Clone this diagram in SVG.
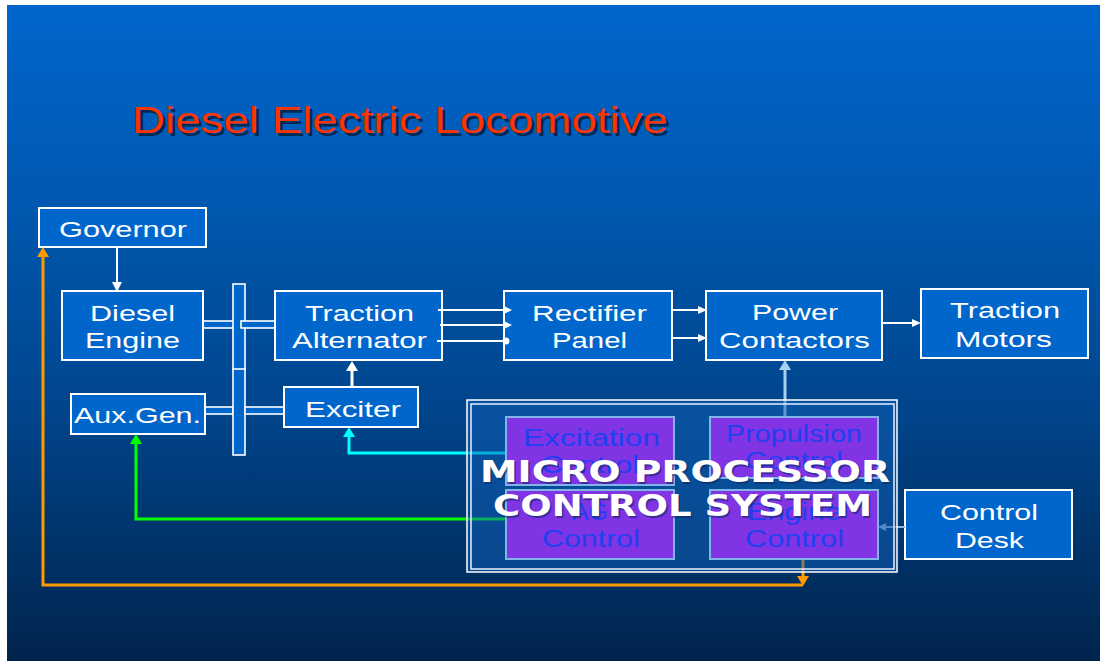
<svg xmlns="http://www.w3.org/2000/svg" width="1106" height="662" viewBox="0 0 1106 662">
<defs>
<linearGradient id="bg" x1="0" y1="0" x2="0" y2="1">
<stop offset="0" stop-color="#0066CC"/>
<stop offset="0.3" stop-color="#0058B0"/>
<stop offset="0.6" stop-color="#00468E"/>
<stop offset="1" stop-color="#00244C"/>
</linearGradient>
<style>
.box{fill:#0066CC;stroke:#FFFFFF;stroke-width:2}
.shaft{fill:#0066CC;stroke:#FFFFFF;stroke-width:1.6}
.lbl{font-family:"Liberation Sans",Arial,sans-serif;font-size:22px;fill:#FFFFFF;text-anchor:middle}
.plbl{font-family:"Liberation Sans",Arial,sans-serif;font-size:23px;fill:#2040F0;text-anchor:middle}
.pbox{fill:#8034E4;stroke:#80B4E8;stroke-width:2}
.w{stroke:#FFFFFF;fill:none}
.mp{font-family:"DejaVu Sans",Verdana,sans-serif;font-weight:bold;font-size:30px;fill:#FFFFFF}
</style>
</defs>
<rect x="0" y="0" width="1106" height="662" fill="#FFFFFF"/>
<rect x="7" y="5" width="1093" height="656" fill="url(#bg)"/>

<g id="title">
<text x="135" y="136" font-family="'Liberation Sans',Arial,sans-serif" font-size="37" fill="#001830" fill-opacity="0.75" textLength="536" lengthAdjust="spacingAndGlyphs">Diesel Electric Locomotive</text>
<text x="132" y="133" font-family="'Liberation Sans',Arial,sans-serif" font-size="37" fill="#FF3300" textLength="536" lengthAdjust="spacingAndGlyphs">Diesel Electric Locomotive</text>
</g>

<g id="shafts">
<rect class="shaft" x="203" y="321" width="31" height="7"/>
<rect class="shaft" x="205" y="407" width="28" height="7"/>
<rect class="shaft" x="233" y="284" width="12" height="86"/>
<rect class="shaft" x="233" y="369" width="12" height="86"/>
<rect class="shaft" x="241" y="321" width="34" height="7"/>
<rect class="shaft" x="245" y="407" width="39" height="7"/>
</g>

<g id="governor">
<rect class="box" x="39" y="208" width="167" height="39"/>
<text class="lbl" x="123" y="237" textLength="128" lengthAdjust="spacingAndGlyphs">Governor</text>
</g>
<g id="diesel-engine">
<rect class="box" x="62" y="291" width="141" height="69"/>
<text class="lbl" x="132.5" y="321" textLength="85" lengthAdjust="spacingAndGlyphs">Diesel</text>
<text class="lbl" x="132.5" y="348" textLength="95" lengthAdjust="spacingAndGlyphs">Engine</text>
</g>
<g id="traction-alternator">
<rect class="box" x="275" y="291" width="167" height="69"/>
<text class="lbl" x="359.5" y="321" textLength="109" lengthAdjust="spacingAndGlyphs">Traction</text>
<text class="lbl" x="359.5" y="348" textLength="135" lengthAdjust="spacingAndGlyphs">Alternator</text>
</g>
<g id="exciter">
<rect class="box" x="284" y="387" width="134" height="40"/>
<text class="lbl" x="353" y="417" textLength="96" lengthAdjust="spacingAndGlyphs">Exciter</text>
</g>
<g id="aux-gen">
<rect class="box" x="71" y="394" width="134" height="40"/>
<text class="lbl" x="137.5" y="423" textLength="127" lengthAdjust="spacingAndGlyphs">Aux.Gen.</text>
</g>
<g id="rectifier-panel">
<rect class="box" x="504" y="291" width="168" height="69"/>
<text class="lbl" x="589.5" y="321" textLength="115" lengthAdjust="spacingAndGlyphs">Rectifier</text>
<text class="lbl" x="589.5" y="348" textLength="75" lengthAdjust="spacingAndGlyphs">Panel</text>
</g>
<g id="power-contactors">
<rect class="box" x="706" y="291" width="176" height="69"/>
<text class="lbl" x="795" y="320" textLength="86" lengthAdjust="spacingAndGlyphs">Power</text>
<text class="lbl" x="794.5" y="348" textLength="151" lengthAdjust="spacingAndGlyphs">Contactors</text>
</g>
<g id="traction-motors">
<rect class="box" x="921" y="289" width="167" height="69"/>
<text class="lbl" x="1005" y="318" textLength="110" lengthAdjust="spacingAndGlyphs">Traction</text>
<text class="lbl" x="1003.5" y="347" textLength="97" lengthAdjust="spacingAndGlyphs">Motors</text>
</g>
<g id="control-desk">
<rect class="box" x="905" y="490" width="167" height="69"/>
<text class="lbl" x="989" y="520" textLength="98" lengthAdjust="spacingAndGlyphs">Control</text>
<text class="lbl" x="989.5" y="548" textLength="69" lengthAdjust="spacingAndGlyphs">Desk</text>
</g>

<g id="connectors">
<line class="w" x1="117" y1="247" x2="117" y2="284" stroke-width="2"/>
<polygon points="112,282 122,282 117,292" fill="#FFFFFF"/>
<line class="w" x1="352" y1="387" x2="352" y2="369" stroke-width="3"/>
<polygon points="346,371 358,371 352,361" fill="#FFFFFF"/>
<line class="w" x1="438" y1="310" x2="505" y2="310" stroke-width="2"/>
<polygon points="504,306 504,314 512,310" fill="#FFFFFF"/>
<line class="w" x1="440" y1="325" x2="505" y2="325" stroke-width="2"/>
<polygon points="504,321 504,329 512,325" fill="#FFFFFF"/>
<line class="w" x1="437" y1="341" x2="506" y2="341" stroke-width="2"/>
<circle cx="506" cy="341" r="3.5" fill="#FFFFFF"/>
<line class="w" x1="672" y1="310" x2="699" y2="310" stroke-width="2"/>
<polygon points="698,306 698,314 707,310" fill="#FFFFFF"/>
<line class="w" x1="672" y1="338" x2="699" y2="338" stroke-width="2"/>
<polygon points="698,334 698,342 707,338" fill="#FFFFFF"/>
<line class="w" x1="882" y1="323" x2="913" y2="323" stroke-width="2"/>
<polygon points="912,319 912,327 921,323" fill="#FFFFFF"/>
<polyline points="506,453 349,453 349,436" fill="none" stroke="#00FFFF" stroke-width="3"/>
<polygon points="343,437 355,437 349,427" fill="#00FFFF"/>
<polyline points="506,519 136,519 136,443" fill="none" stroke="#00FF00" stroke-width="3"/>
<polygon points="130,444 142,444 136,434" fill="#00FF00"/>
<polyline points="803,585 43,585 43,256" fill="none" stroke="#FF9900" stroke-width="3"/>
<polygon points="37,257 49,257 43,247" fill="#FF9900"/>
<line x1="803" y1="559" x2="803" y2="577" stroke="#FF9900" stroke-width="3"/>
<polygon points="797,576 809,576 803,586" fill="#FF9900"/>
<line x1="785" y1="417" x2="785" y2="369" stroke="#A8D0F0" stroke-width="3"/>
<polygon points="779,370 791,370 785,360" fill="#A8D0F0"/>
<line x1="905" y1="527" x2="884" y2="527" stroke="#8FB3DC" stroke-width="2"/>
<polygon points="886,523 886,531 878,527" fill="#8FB3DC"/>
</g>

<g id="micro-processor-control-system">
<rect x="467" y="400" width="430" height="172" fill="#1060B8" fill-opacity="0.5" stroke="#FFFFFF" stroke-width="1.5"/>
<rect x="471" y="404" width="423" height="165" fill="none" stroke="#E8F0FF" stroke-width="1.5"/>
<g id="excitation-control">
<rect class="pbox" x="506" y="417" width="168" height="68"/>
<text class="plbl" x="591.5" y="446" textLength="137" lengthAdjust="spacingAndGlyphs">Excitation</text>
<text class="plbl" x="590" y="473" textLength="98" lengthAdjust="spacingAndGlyphs">Control</text>
</g>
<g id="propulsion-control">
<rect class="pbox" x="710" y="417" width="168" height="61"/>
<text class="plbl" x="794" y="442" textLength="136" lengthAdjust="spacingAndGlyphs">Propulsion</text>
<text class="plbl" x="794" y="469" textLength="98" lengthAdjust="spacingAndGlyphs">Control</text>
</g>
<g id="ag-control">
<rect class="pbox" x="506" y="490" width="168" height="69"/>
<text class="plbl" x="590" y="520" textLength="36" lengthAdjust="spacingAndGlyphs">AG</text>
<text class="plbl" x="591" y="547" textLength="98" lengthAdjust="spacingAndGlyphs">Control</text>
</g>
<g id="engine-control">
<rect class="pbox" x="710" y="490" width="168" height="69"/>
<text class="plbl" x="794.5" y="520" textLength="95" lengthAdjust="spacingAndGlyphs">Engine</text>
<text class="plbl" x="794.5" y="547" textLength="99" lengthAdjust="spacingAndGlyphs">Control</text>
</g>
<text class="mp" x="481.5" y="483.5" fill="#0A2A60" style="fill:#0A2A60" fill-opacity="0.6" textLength="410" lengthAdjust="spacingAndGlyphs">MICRO PROCESSOR</text>
<text class="mp" x="494.5" y="517.5" style="fill:#0A2A60" fill-opacity="0.6" textLength="379" lengthAdjust="spacingAndGlyphs">CONTROL SYSTEM</text>
<text class="mp" x="480" y="482" textLength="410" lengthAdjust="spacingAndGlyphs">MICRO PROCESSOR</text>
<text class="mp" x="493" y="516" textLength="379" lengthAdjust="spacingAndGlyphs">CONTROL SYSTEM</text>
</g>
</svg>
